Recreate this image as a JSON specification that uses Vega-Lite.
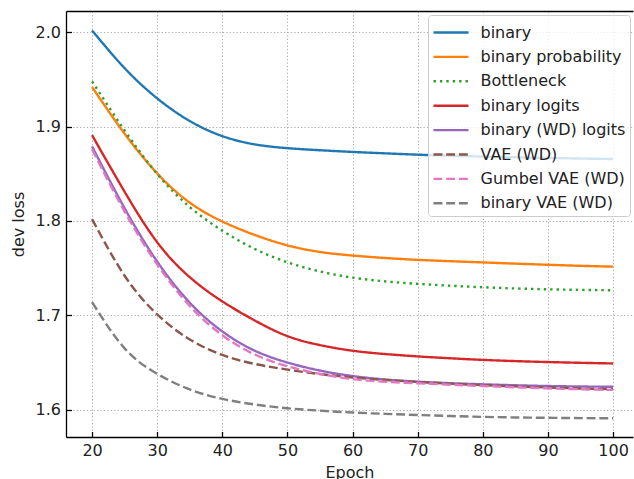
{
"$schema": "https://vega.github.io/schema/vega-lite/v6.json",
"width": 567, "height": 426,
"autosize": {"type": "none"},
"padding": {"left": 66, "top": 11, "right": 1, "bottom": 42},
"background": "white",
"config": {"font": "DejaVu Sans", "view": {"stroke": null}},
"data": {"values": [
{"epoch":20,"loss":2.002,"model":"binary"},{"epoch":25,"loss":1.962,"model":"binary"},{"epoch":30,"loss":1.930,"model":"binary"},{"epoch":35,"loss":1.906,"model":"binary"},{"epoch":40,"loss":1.890,"model":"binary"},{"epoch":45,"loss":1.8812,"model":"binary"},{"epoch":50,"loss":1.8772,"model":"binary"},{"epoch":55,"loss":1.875,"model":"binary"},{"epoch":60,"loss":1.8732,"model":"binary"},{"epoch":65,"loss":1.8717,"model":"binary"},{"epoch":70,"loss":1.8703,"model":"binary"},{"epoch":75,"loss":1.8692,"model":"binary"},{"epoch":80,"loss":1.8683,"model":"binary"},{"epoch":85,"loss":1.8675,"model":"binary"},{"epoch":90,"loss":1.8668,"model":"binary"},{"epoch":95,"loss":1.8662,"model":"binary"},{"epoch":100,"loss":1.8657,"model":"binary"},
{"epoch":20,"loss":1.942,"model":"binary probability"},{"epoch":25,"loss":1.8925,"model":"binary probability"},{"epoch":30,"loss":1.8505,"model":"binary probability"},{"epoch":35,"loss":1.8195,"model":"binary probability"},{"epoch":40,"loss":1.7995,"model":"binary probability"},{"epoch":45,"loss":1.7852,"model":"binary probability"},{"epoch":50,"loss":1.7742,"model":"binary probability"},{"epoch":55,"loss":1.7672,"model":"binary probability"},{"epoch":60,"loss":1.7634,"model":"binary probability"},{"epoch":65,"loss":1.7608,"model":"binary probability"},{"epoch":70,"loss":1.7588,"model":"binary probability"},{"epoch":75,"loss":1.7574,"model":"binary probability"},{"epoch":80,"loss":1.7561,"model":"binary probability"},{"epoch":85,"loss":1.7548,"model":"binary probability"},{"epoch":90,"loss":1.7536,"model":"binary probability"},{"epoch":95,"loss":1.7525,"model":"binary probability"},{"epoch":100,"loss":1.7516,"model":"binary probability"},
{"epoch":20,"loss":1.948,"model":"Bottleneck"},{"epoch":25,"loss":1.896,"model":"Bottleneck"},{"epoch":30,"loss":1.8498,"model":"Bottleneck"},{"epoch":35,"loss":1.8148,"model":"Bottleneck"},{"epoch":40,"loss":1.7898,"model":"Bottleneck"},{"epoch":45,"loss":1.7703,"model":"Bottleneck"},{"epoch":50,"loss":1.7563,"model":"Bottleneck"},{"epoch":55,"loss":1.7465,"model":"Bottleneck"},{"epoch":60,"loss":1.7400,"model":"Bottleneck"},{"epoch":65,"loss":1.7360,"model":"Bottleneck"},{"epoch":70,"loss":1.7334,"model":"Bottleneck"},{"epoch":75,"loss":1.7314,"model":"Bottleneck"},{"epoch":80,"loss":1.7298,"model":"Bottleneck"},{"epoch":85,"loss":1.7285,"model":"Bottleneck"},{"epoch":90,"loss":1.7276,"model":"Bottleneck"},{"epoch":95,"loss":1.7270,"model":"Bottleneck"},{"epoch":100,"loss":1.7266,"model":"Bottleneck"},
{"epoch":20,"loss":1.891,"model":"binary logits"},{"epoch":25,"loss":1.831,"model":"binary logits"},{"epoch":30,"loss":1.7775,"model":"binary logits"},{"epoch":35,"loss":1.7405,"model":"binary logits"},{"epoch":40,"loss":1.7148,"model":"binary logits"},{"epoch":45,"loss":1.6945,"model":"binary logits"},{"epoch":50,"loss":1.678,"model":"binary logits"},{"epoch":55,"loss":1.6685,"model":"binary logits"},{"epoch":60,"loss":1.6625,"model":"binary logits"},{"epoch":65,"loss":1.659,"model":"binary logits"},{"epoch":70,"loss":1.6565,"model":"binary logits"},{"epoch":75,"loss":1.6545,"model":"binary logits"},{"epoch":80,"loss":1.6528,"model":"binary logits"},{"epoch":85,"loss":1.6515,"model":"binary logits"},{"epoch":90,"loss":1.6505,"model":"binary logits"},{"epoch":95,"loss":1.6497,"model":"binary logits"},{"epoch":100,"loss":1.649,"model":"binary logits"},
{"epoch":20,"loss":1.879,"model":"binary (WD) logits"},{"epoch":25,"loss":1.8135,"model":"binary (WD) logits"},{"epoch":30,"loss":1.757,"model":"binary (WD) logits"},{"epoch":35,"loss":1.7135,"model":"binary (WD) logits"},{"epoch":40,"loss":1.683,"model":"binary (WD) logits"},{"epoch":45,"loss":1.6625,"model":"binary (WD) logits"},{"epoch":50,"loss":1.650,"model":"binary (WD) logits"},{"epoch":55,"loss":1.6415,"model":"binary (WD) logits"},{"epoch":60,"loss":1.6357,"model":"binary (WD) logits"},{"epoch":65,"loss":1.632,"model":"binary (WD) logits"},{"epoch":70,"loss":1.6297,"model":"binary (WD) logits"},{"epoch":75,"loss":1.6281,"model":"binary (WD) logits"},{"epoch":80,"loss":1.6269,"model":"binary (WD) logits"},{"epoch":85,"loss":1.6259,"model":"binary (WD) logits"},{"epoch":90,"loss":1.6251,"model":"binary (WD) logits"},{"epoch":95,"loss":1.6246,"model":"binary (WD) logits"},{"epoch":100,"loss":1.6243,"model":"binary (WD) logits"},
{"epoch":20,"loss":1.802,"model":"VAE (WD)"},{"epoch":25,"loss":1.742,"model":"VAE (WD)"},{"epoch":30,"loss":1.701,"model":"VAE (WD)"},{"epoch":35,"loss":1.6745,"model":"VAE (WD)"},{"epoch":40,"loss":1.658,"model":"VAE (WD)"},{"epoch":45,"loss":1.6485,"model":"VAE (WD)"},{"epoch":50,"loss":1.6425,"model":"VAE (WD)"},{"epoch":55,"loss":1.6378,"model":"VAE (WD)"},{"epoch":60,"loss":1.6342,"model":"VAE (WD)"},{"epoch":65,"loss":1.6315,"model":"VAE (WD)"},{"epoch":70,"loss":1.6294,"model":"VAE (WD)"},{"epoch":75,"loss":1.6276,"model":"VAE (WD)"},{"epoch":80,"loss":1.6261,"model":"VAE (WD)"},{"epoch":85,"loss":1.6247,"model":"VAE (WD)"},{"epoch":90,"loss":1.6235,"model":"VAE (WD)"},{"epoch":95,"loss":1.6225,"model":"VAE (WD)"},{"epoch":100,"loss":1.6216,"model":"VAE (WD)"},
{"epoch":20,"loss":1.876,"model":"Gumbel VAE (WD)"},{"epoch":25,"loss":1.810,"model":"Gumbel VAE (WD)"},{"epoch":30,"loss":1.754,"model":"Gumbel VAE (WD)"},{"epoch":35,"loss":1.710,"model":"Gumbel VAE (WD)"},{"epoch":40,"loss":1.679,"model":"Gumbel VAE (WD)"},{"epoch":45,"loss":1.6585,"model":"Gumbel VAE (WD)"},{"epoch":50,"loss":1.646,"model":"Gumbel VAE (WD)"},{"epoch":55,"loss":1.638,"model":"Gumbel VAE (WD)"},{"epoch":60,"loss":1.6325,"model":"Gumbel VAE (WD)"},{"epoch":65,"loss":1.6296,"model":"Gumbel VAE (WD)"},{"epoch":70,"loss":1.628,"model":"Gumbel VAE (WD)"},{"epoch":75,"loss":1.6265,"model":"Gumbel VAE (WD)"},{"epoch":80,"loss":1.6251,"model":"Gumbel VAE (WD)"},{"epoch":85,"loss":1.6238,"model":"Gumbel VAE (WD)"},{"epoch":90,"loss":1.6226,"model":"Gumbel VAE (WD)"},{"epoch":95,"loss":1.6217,"model":"Gumbel VAE (WD)"},{"epoch":100,"loss":1.621,"model":"Gumbel VAE (WD)"},
{"epoch":20,"loss":1.714,"model":"binary VAE (WD)"},{"epoch":25,"loss":1.665,"model":"binary VAE (WD)"},{"epoch":30,"loss":1.638,"model":"binary VAE (WD)"},{"epoch":35,"loss":1.6215,"model":"binary VAE (WD)"},{"epoch":40,"loss":1.6115,"model":"binary VAE (WD)"},{"epoch":45,"loss":1.6055,"model":"binary VAE (WD)"},{"epoch":50,"loss":1.6015,"model":"binary VAE (WD)"},{"epoch":55,"loss":1.599,"model":"binary VAE (WD)"},{"epoch":60,"loss":1.597,"model":"binary VAE (WD)"},{"epoch":65,"loss":1.5956,"model":"binary VAE (WD)"},{"epoch":70,"loss":1.5944,"model":"binary VAE (WD)"},{"epoch":75,"loss":1.5933,"model":"binary VAE (WD)"},{"epoch":80,"loss":1.5924,"model":"binary VAE (WD)"},{"epoch":85,"loss":1.5918,"model":"binary VAE (WD)"},{"epoch":90,"loss":1.5914,"model":"binary VAE (WD)"},{"epoch":95,"loss":1.5911,"model":"binary VAE (WD)"},{"epoch":100,"loss":1.5909,"model":"binary VAE (WD)"}
]},
"layer": [
{"mark": {"type": "line", "strokeWidth": 2.4, "interpolate": "natural"},
 "encoding": {
  "x": {"field": "epoch", "type": "quantitative",
        "scale": {"domain": [16, 103.06], "nice": false, "zero": false},
        "axis": {"title": "Epoch", "values": [20,30,40,50,60,70,80,90,100], "labelFlush": false,
                 "grid": true, "gridDash": [1.3, 2.1], "gridColor": "#b0b0b0", "gridWidth": 1,
                 "tickSize": -5.5, "tickColor": "black", "tickWidth": 1.3,
                 "labelPadding": 11, "labelFontSize": 16, "labelColor": "#222",
                 "titleFontSize": 16, "titleFontWeight": "normal", "titleColor": "#222", "titlePadding": 6,
                 "domainColor": "black", "domainWidth": 1.3}},
  "y": {"field": "loss", "type": "quantitative",
        "scale": {"domain": [1.57107, 2.02257], "nice": false, "zero": false},
        "axis": {"title": "dev loss", "values": [1.6,1.7,1.8,1.9,2.0], "format": ".1f", "labelFlush": false,
                 "grid": true, "gridDash": [1.3, 2.1], "gridColor": "#b0b0b0", "gridWidth": 1,
                 "tickSize": -5.5, "tickColor": "black", "tickWidth": 1.3,
                 "labelPadding": 11, "labelFontSize": 16, "labelColor": "#222",
                 "titleFontSize": 16, "titleFontWeight": "normal", "titleColor": "#222", "titlePadding": 9,
                 "domainColor": "black", "domainWidth": 1.3}},
  "color": {"field": "model", "type": "nominal",
            "scale": {"domain": ["binary","binary probability","Bottleneck","binary logits","binary (WD) logits","VAE (WD)","Gumbel VAE (WD)","binary VAE (WD)"],
                      "range": ["#1f77b4","#ff7f0e","#2ca02c","#d62728","#9467bd","#8c564b","#e377c2","#7f7f7f"]},
            "legend": {"orient": "none", "legendX": 362, "legendY": 4, "title": null,
                       "symbolType": "M-1,0H1.9167", "symbolSize": 576, "symbolStrokeWidth": 2.4,
                       "labelFontSize": 16, "labelColor": "#222", "labelOffset": 21.5, "labelLimit": 400,
                       "padding": 4, "rowPadding": 2.4, "symbolOffset": 0,
                       "fillColor": "rgba(255,255,255,0.8)", "strokeColor": "#cccccc", "cornerRadius": 3}},
  "strokeDash": {"field": "model", "type": "nominal",
            "scale": {"domain": ["binary","binary probability","Bottleneck","binary logits","binary (WD) logits","VAE (WD)","Gumbel VAE (WD)","binary VAE (WD)"],
                      "range": [[1,0],[1,0],[2.4,4],[1,0],[1,0],[8.9,3.8],[8.9,3.8],[8.9,3.8]]}}
 }},
{"mark": {"type": "point", "opacity": 0},
 "encoding": {
  "x": {"field": "epoch", "type": "quantitative",
        "axis": {"orient": "top", "labels": false, "ticks": false, "grid": false, "title": null,
                 "domain": true, "domainColor": "black", "domainWidth": 1.3}},
  "y": {"field": "loss", "type": "quantitative"}
 }}
],
"resolve": {"axis": {"x": "independent"}}
}
